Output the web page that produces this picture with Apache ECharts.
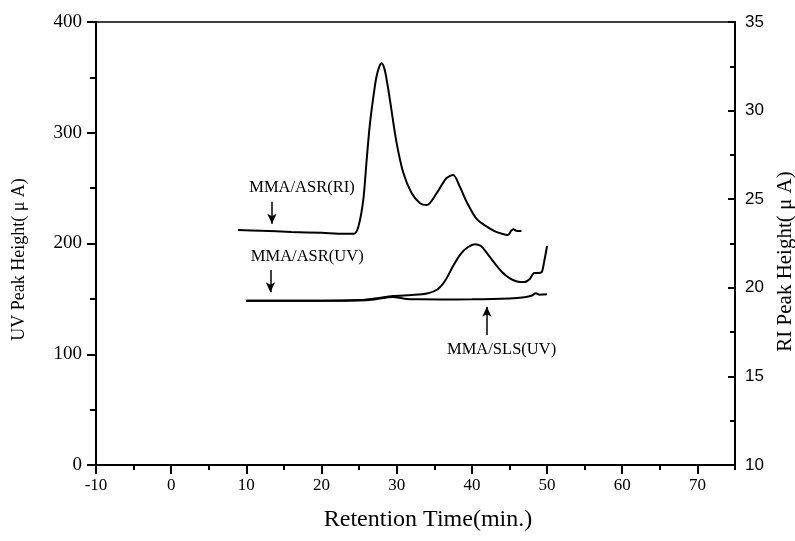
<!DOCTYPE html>
<html>
<head>
<meta charset="utf-8">
<script src="https://cdn.jsdelivr.net/npm/echarts@6/dist/echarts.min.js"></script>
<style>
  html, body { margin: 0; padding: 0; background: #fff; }
  #chart { width: 795px; height: 541px; }
</style>
</head>
<body>
<div id="chart"></div>
<script>
// RI trace of MMA/ASR (right axis, uA)
const riTime = [8.9, 12, 16, 20, 23, 24.3, 24.9, 25.55, 26.0, 26.4, 26.9, 27.3, 27.7, 28.0, 28.4, 28.8, 29.1, 30.0, 30.9, 32.0, 33.1, 34.0, 35.3, 36.6, 37.5, 38.4, 39.3, 40.6, 42.0, 43.0, 44.0, 44.8, 45.2, 45.5, 46.0, 46.6]
const riValue = [23.26, 23.22, 23.15, 23.1, 23.05, 23.05, 23.45, 24.95, 27.2, 29.1, 30.8, 31.9, 32.5, 32.67, 32.3, 31.4, 30.6, 28.15, 26.46, 25.33, 24.77, 24.67, 25.33, 26.18, 26.36, 25.7, 24.86, 23.9, 23.45, 23.2, 23.05, 22.98, 23.2, 23.3, 23.2, 23.2]

// UV trace of MMA/ASR (left axis, uA)
const asrTime = [10, 15, 20, 25, 27, 29.5, 32, 34, 35.5, 36.5, 37.5, 38.5, 39.5, 40.4, 41.2, 42, 43, 44, 45, 46, 47, 47.7, 48.3, 48.8, 49.3, 49.6, 50]
const asrValue = [148.4, 148.4, 148.4, 149, 150.3, 152.6, 153.5, 154.9, 158.9, 167, 179.7, 190.5, 196.8, 199.3, 197.7, 191.4, 182.4, 174.3, 168.8, 165.7, 165.2, 168, 173.4, 173.4, 174.3, 183, 197.7]

// UV trace of MMA/SLS (left axis, uA)
const slsTime = [10, 15, 20, 25, 27, 29.5, 31, 33, 36, 40, 45, 47, 48, 48.5, 49, 49.5, 50]
const slsValue = [148.4, 148.4, 148.4, 148.6, 149.5, 151.8, 150.2, 149.6, 149.5, 149.6, 150.4, 151.5, 153, 155, 153.8, 154, 154.1]

const xTicks = [-10, 75]
const uvTicks = [0, 400]
const riTicks = [10, 35]

const pairs = (xs, ys) => xs.map((x, i) => [x, ys[i]])

const serif = 'Liberation Serif'
const axisColor = '#000'

const chart = echarts.init(document.getElementById('chart'))

const noteLabel = {
  show: true,
  formatter: '{b}',
  color: '#000',
  fontFamily: serif,
  fontSize: 16.5,
  position: 'inside'
}

const arrowLine = {
  silent: true,
  symbol: ['none', 'arrow'],
  symbolSize: [7, 10],
  label: { show: false },
  lineStyle: { color: '#000', width: 1.5, type: 'solid' }
}

chart.setOption({
  animation: false,
  backgroundColor: '#fff',
  grid: {
    left: 96,
    right: 60,
    top: 22,
    bottom: 76,
    containLabel: false,
    outerBoundsMode: 'none',
    show: true,
    borderColor: '#000',
    borderWidth: 1.5
  },
  xAxis: [
    {
      type: 'value',
      min: xTicks[0],
      max: xTicks[1],
      interval: 10,
      name: 'Retention Time(min.)',
      nameLocation: 'middle',
      nameGap: 43,
      nameTextStyle: { fontFamily: serif, fontSize: 24, color: '#000', padding: [0, 0, 0, 25] },
      axisLine: { onZero: false, lineStyle: { color: axisColor, width: 2 } },
      axisTick: { length: 9, lineStyle: { color: axisColor, width: 2 } },
      axisLabel: {
        margin: 12,
        fontFamily: serif,
        fontSize: 17,
        color: '#000',
        showMaxLabel: false,
        formatter: v => (v % 10 === 0 ? String(v) : '')
      },
      splitLine: { show: false }
    },
    {
      // half-step ticks
      type: 'value',
      position: 'bottom',
      min: xTicks[0],
      max: xTicks[1],
      interval: 5,
      axisLine: { show: false, onZero: false },
      axisTick: { length: 5, lineStyle: { color: axisColor, width: 2 } },
      axisLabel: { show: false },
      splitLine: { show: false }
    }
  ],
  yAxis: [
    {
      type: 'value',
      min: uvTicks[0],
      max: uvTicks[1],
      interval: 100,
      name: 'UV Peak Height( μ A)',
      nameLocation: 'middle',
      nameGap: 68,
      nameRotate: 90,
      nameTextStyle: { fontFamily: serif, fontSize: 18, color: '#000', padding: [0, 32, 0, 0] },
      axisLine: { onZero: false, lineStyle: { color: axisColor, width: 2 } },
      axisTick: { length: 9, lineStyle: { color: axisColor, width: 2 } },
      minorTick: { show: true, splitNumber: 2, length: 6, lineStyle: { color: axisColor, width: 2 } },
      axisLabel: { margin: 14, fontFamily: serif, fontSize: 19, color: '#000' },
      splitLine: { show: false }
    },
    {
      type: 'value',
      position: 'right',
      min: riTicks[0],
      max: riTicks[1],
      interval: 5,
      name: 'RI Peak Height( μ A)',
      nameLocation: 'middle',
      nameGap: 40,
      nameRotate: 90,
      nameTextStyle: { fontFamily: serif, fontSize: 21, color: '#000', padding: [0, 36, 0, 0] },
      axisLine: { onZero: false, lineStyle: { color: axisColor, width: 2 } },
      axisTick: { inside: true, length: 7, lineStyle: { color: axisColor, width: 2 } },
      minorTick: { show: true, splitNumber: 2, length: 5, lineStyle: { color: axisColor, width: 2 } },
      axisLabel: { margin: 10, fontFamily: 'Liberation Sans', fontSize: 17, color: '#000' },
      splitLine: { show: false }
    }
  ],
  series: [
    {
      name: 'MMA/ASR(RI)',
      type: 'line',
      yAxisIndex: 1,
      data: pairs(riTime, riValue),
      smooth: 0.3,
      showSymbol: false,
      lineStyle: { color: '#000', width: 2 },
      markPoint: {
        symbolSize: 0,
        label: noteLabel,
        data: [{ name: 'MMA/ASR(RI)', coord: [17.4, 25.63] }]
      },
      markLine: Object.assign({}, arrowLine, {
        data: [[{ coord: [13.4, 24.85] }, { coord: [13.4, 23.62] }]]
      })
    },
    {
      name: 'MMA/ASR(UV)',
      type: 'line',
      data: pairs(asrTime, asrValue),
      smooth: 0.3,
      showSymbol: false,
      lineStyle: { color: '#000', width: 2 },
      markPoint: {
        symbolSize: 0,
        label: noteLabel,
        data: [{ name: 'MMA/ASR(UV)', coord: [18.1, 187.8] }]
      },
      markLine: Object.assign({}, arrowLine, {
        data: [[{ coord: [13.2, 176] }, { coord: [13.2, 156] }]]
      })
    },
    {
      name: 'MMA/SLS(UV)',
      type: 'line',
      data: pairs(slsTime, slsValue),
      smooth: 0.3,
      showSymbol: false,
      lineStyle: { color: '#000', width: 2 },
      markPoint: {
        symbolSize: 0,
        label: noteLabel,
        data: [{ name: 'MMA/SLS(UV)', coord: [43.95, 103.8] }]
      },
      markLine: Object.assign({}, arrowLine, {
        data: [[{ coord: [42.0, 117.4] }, { coord: [42.0, 143] }]]
      })
    }
  ]
})
</script>
</body>
</html>
